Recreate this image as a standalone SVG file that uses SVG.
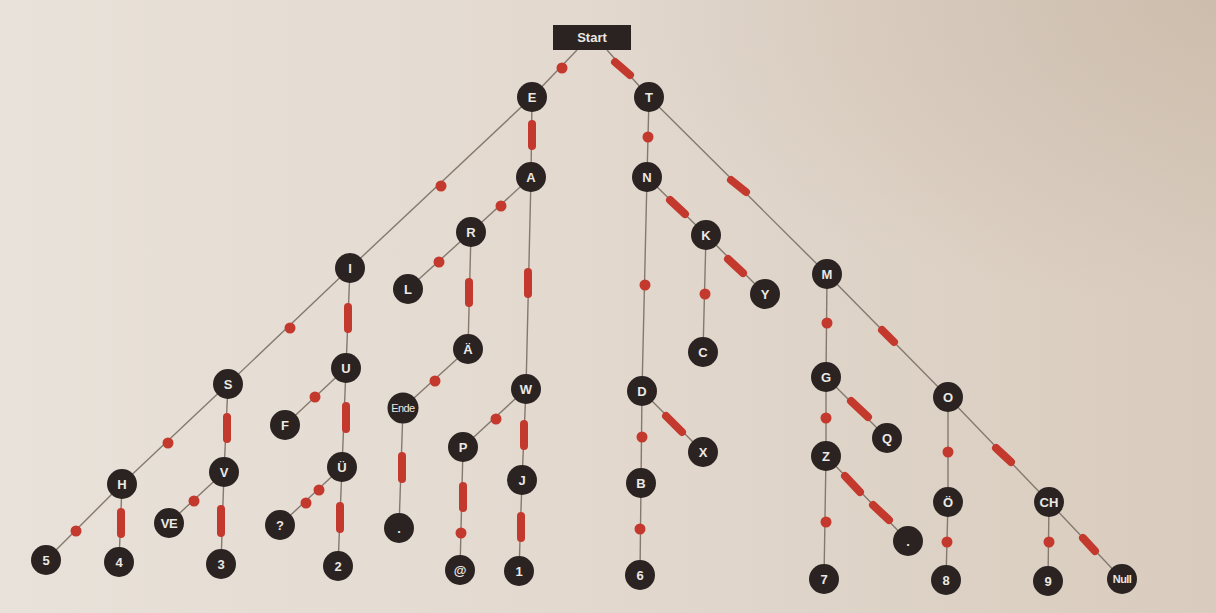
<svg xmlns="http://www.w3.org/2000/svg" width="1216" height="613" viewBox="0 0 1216 613">
<defs>
<linearGradient id="bg" x1="0" y1="0" x2="1" y2="0">
<stop offset="0" stop-color="#e9e2da"/>
<stop offset="0.5" stop-color="#e2d8ce"/>
<stop offset="1" stop-color="#d9ccbe"/>
</linearGradient>
<radialGradient id="vig" cx="1" cy="0" r="0.5">
<stop offset="0" stop-color="#b09a84" stop-opacity="0.3"/>
<stop offset="1" stop-color="#b09a84" stop-opacity="0"/>
</radialGradient>
<style>
.edge{stroke:#85796f;stroke-width:1.4;fill:none}
.dash{stroke:#c4392d;stroke-width:8;stroke-linecap:round}
.dot{fill:#c4392d}
.node circle{fill:#2a2321}
.node rect{fill:#2a2321}
.node text{font-family:"Liberation Sans",Arial,sans-serif;font-weight:bold;font-size:13px;fill:#ece8e4;text-anchor:middle}
.node text.small{font-size:11px;letter-spacing:-0.6px}
</style>
</defs>
<rect width="1216" height="613" fill="url(#bg)"/>
<rect width="1216" height="613" fill="url(#vig)"/>
<g id="connectors">
<line class="edge" x1="577" y1="50" x2="532" y2="97"/>
<line class="edge" x1="607" y1="50" x2="649" y2="97"/>
<line class="edge" x1="532" y1="97" x2="350" y2="268"/>
<line class="edge" x1="532" y1="97" x2="531" y2="177"/>
<line class="edge" x1="649" y1="97" x2="647" y2="177"/>
<line class="edge" x1="649" y1="97" x2="827" y2="274"/>
<line class="edge" x1="531" y1="177" x2="471" y2="232"/>
<line class="edge" x1="531" y1="177" x2="526" y2="389"/>
<line class="edge" x1="647" y1="177" x2="642" y2="391"/>
<line class="edge" x1="647" y1="177" x2="706" y2="235"/>
<line class="edge" x1="350" y1="268" x2="228" y2="384"/>
<line class="edge" x1="350" y1="268" x2="346" y2="368"/>
<line class="edge" x1="471" y1="232" x2="408" y2="289"/>
<line class="edge" x1="471" y1="232" x2="468" y2="349"/>
<line class="edge" x1="706" y1="235" x2="703" y2="352"/>
<line class="edge" x1="706" y1="235" x2="765" y2="294"/>
<line class="edge" x1="827" y1="274" x2="826" y2="377"/>
<line class="edge" x1="827" y1="274" x2="948" y2="397"/>
<line class="edge" x1="228" y1="384" x2="122" y2="484"/>
<line class="edge" x1="228" y1="384" x2="224" y2="472"/>
<line class="edge" x1="346" y1="368" x2="285" y2="425"/>
<line class="edge" x1="346" y1="368" x2="342" y2="467"/>
<line class="edge" x1="468" y1="349" x2="403" y2="408"/>
<line class="edge" x1="526" y1="389" x2="463" y2="447"/>
<line class="edge" x1="526" y1="389" x2="522" y2="480"/>
<line class="edge" x1="642" y1="391" x2="641" y2="483"/>
<line class="edge" x1="642" y1="391" x2="703" y2="452"/>
<line class="edge" x1="826" y1="377" x2="826" y2="456"/>
<line class="edge" x1="826" y1="377" x2="887" y2="438"/>
<line class="edge" x1="948" y1="397" x2="948" y2="502"/>
<line class="edge" x1="948" y1="397" x2="1049" y2="502"/>
<line class="edge" x1="122" y1="484" x2="46" y2="560"/>
<line class="edge" x1="122" y1="484" x2="119" y2="562"/>
<line class="edge" x1="224" y1="472" x2="169" y2="523"/>
<line class="edge" x1="224" y1="472" x2="221" y2="564"/>
<line class="edge" x1="342" y1="467" x2="280" y2="525"/>
<line class="edge" x1="342" y1="467" x2="338" y2="566"/>
<line class="edge" x1="403" y1="408" x2="399" y2="528"/>
<line class="edge" x1="463" y1="447" x2="460" y2="570"/>
<line class="edge" x1="522" y1="480" x2="519" y2="571"/>
<line class="edge" x1="641" y1="483" x2="640" y2="575"/>
<line class="edge" x1="826" y1="456" x2="824" y2="579"/>
<line class="edge" x1="826" y1="456" x2="908" y2="541"/>
<line class="edge" x1="948" y1="502" x2="946" y2="580"/>
<line class="edge" x1="1049" y1="502" x2="1048" y2="581"/>
<line class="edge" x1="1049" y1="502" x2="1122" y2="579"/>
<circle class="dot" cx="562" cy="68" r="5.5"/>
<circle class="dot" cx="441" cy="186" r="5.5"/>
<circle class="dot" cx="648" cy="137" r="5.5"/>
<circle class="dot" cx="501" cy="206" r="5.5"/>
<circle class="dot" cx="645" cy="285" r="5.5"/>
<circle class="dot" cx="290" cy="328" r="5.5"/>
<circle class="dot" cx="439" cy="262" r="5.5"/>
<circle class="dot" cx="705" cy="294" r="5.5"/>
<circle class="dot" cx="827" cy="323" r="5.5"/>
<circle class="dot" cx="168" cy="443" r="5.5"/>
<circle class="dot" cx="315" cy="397" r="5.5"/>
<circle class="dot" cx="435" cy="381" r="5.5"/>
<circle class="dot" cx="496" cy="419" r="5.5"/>
<circle class="dot" cx="642" cy="437" r="5.5"/>
<circle class="dot" cx="826" cy="418" r="5.5"/>
<circle class="dot" cx="948" cy="452" r="5.5"/>
<circle class="dot" cx="76" cy="531" r="5.5"/>
<circle class="dot" cx="194" cy="501" r="5.5"/>
<circle class="dot" cx="319" cy="490" r="5.5"/>
<circle class="dot" cx="306" cy="503" r="5.5"/>
<circle class="dot" cx="461" cy="533" r="5.5"/>
<circle class="dot" cx="640" cy="529" r="5.5"/>
<circle class="dot" cx="826" cy="522" r="5.5"/>
<circle class="dot" cx="947" cy="542" r="5.5"/>
<circle class="dot" cx="1049" cy="542" r="5.5"/>
<line class="dash" x1="615" y1="62" x2="630" y2="75"/>
<line class="dash" x1="532" y1="124" x2="532" y2="146"/>
<line class="dash" x1="731" y1="180" x2="746" y2="192"/>
<line class="dash" x1="528" y1="272" x2="528" y2="294"/>
<line class="dash" x1="670" y1="200" x2="685" y2="214"/>
<line class="dash" x1="348" y1="307" x2="348" y2="329"/>
<line class="dash" x1="469" y1="282" x2="469" y2="303"/>
<line class="dash" x1="728" y1="259" x2="743" y2="273"/>
<line class="dash" x1="882" y1="330" x2="894" y2="342"/>
<line class="dash" x1="227" y1="417" x2="227" y2="439"/>
<line class="dash" x1="346" y1="406" x2="346" y2="429"/>
<line class="dash" x1="524" y1="424" x2="524" y2="446"/>
<line class="dash" x1="666" y1="416" x2="682" y2="432"/>
<line class="dash" x1="851" y1="401" x2="868" y2="417"/>
<line class="dash" x1="996" y1="448" x2="1011" y2="462"/>
<line class="dash" x1="121" y1="512" x2="121" y2="534"/>
<line class="dash" x1="221" y1="509" x2="221" y2="533"/>
<line class="dash" x1="340" y1="506" x2="340" y2="529"/>
<line class="dash" x1="402" y1="456" x2="402" y2="479"/>
<line class="dash" x1="463" y1="486" x2="463" y2="508"/>
<line class="dash" x1="521" y1="516" x2="521" y2="538"/>
<line class="dash" x1="845" y1="476" x2="860" y2="492"/>
<line class="dash" x1="873" y1="505" x2="889" y2="520"/>
<line class="dash" x1="1083" y1="538" x2="1095" y2="551"/>
</g>
<g id="n-start" class="node"><rect x="553" y="25" width="78" height="25"/><text x="592" y="42">Start</text></g>
<g id="n-E" class="node"><circle cx="532" cy="97" r="15"/><text x="532" y="101.5">E</text></g>
<g id="n-T" class="node"><circle cx="649" cy="97" r="15"/><text x="649" y="101.5">T</text></g>
<g id="n-A" class="node"><circle cx="531" cy="177" r="15"/><text x="531" y="181.5">A</text></g>
<g id="n-N" class="node"><circle cx="647" cy="177" r="15"/><text x="647" y="181.5">N</text></g>
<g id="n-R" class="node"><circle cx="471" cy="232" r="15"/><text x="471" y="236.5">R</text></g>
<g id="n-K" class="node"><circle cx="706" cy="235" r="15"/><text x="706" y="239.5">K</text></g>
<g id="n-I" class="node"><circle cx="350" cy="268" r="15"/><text x="350" y="272.5">I</text></g>
<g id="n-L" class="node"><circle cx="408" cy="289" r="15"/><text x="408" y="293.5">L</text></g>
<g id="n-M" class="node"><circle cx="827" cy="274" r="15"/><text x="827" y="278.5">M</text></g>
<g id="n-Y" class="node"><circle cx="765" cy="294" r="15"/><text x="765" y="298.5">Y</text></g>
<g id="n-C" class="node"><circle cx="703" cy="352" r="15"/><text x="703" y="356.5">C</text></g>
<g id="n-AE" class="node"><circle cx="468" cy="349" r="15"/><text x="468" y="353.5">Ä</text></g>
<g id="n-S" class="node"><circle cx="228" cy="384" r="15"/><text x="228" y="388.5">S</text></g>
<g id="n-U" class="node"><circle cx="346" cy="368" r="15"/><text x="346" y="372.5">U</text></g>
<g id="n-W" class="node"><circle cx="526" cy="389" r="15"/><text x="526" y="393.5">W</text></g>
<g id="n-D" class="node"><circle cx="642" cy="391" r="15"/><text x="642" y="395.5">D</text></g>
<g id="n-G" class="node"><circle cx="826" cy="377" r="15"/><text x="826" y="381.5">G</text></g>
<g id="n-O" class="node"><circle cx="948" cy="397" r="15"/><text x="948" y="401.5">O</text></g>
<g id="n-Ende" class="node"><circle cx="403" cy="408" r="15.5"/><text class="small" x="403" y="412" style="font-weight:normal">Ende</text></g>
<g id="n-F" class="node"><circle cx="285" cy="425" r="15"/><text x="285" y="429.5">F</text></g>
<g id="n-P" class="node"><circle cx="463" cy="447" r="15"/><text x="463" y="451.5">P</text></g>
<g id="n-X" class="node"><circle cx="703" cy="452" r="15"/><text x="703" y="456.5">X</text></g>
<g id="n-Q" class="node"><circle cx="887" cy="438" r="15"/><text x="887" y="442.5">Q</text></g>
<g id="n-H" class="node"><circle cx="122" cy="484" r="15"/><text x="122" y="488.5">H</text></g>
<g id="n-V" class="node"><circle cx="224" cy="472" r="15"/><text x="224" y="476.5">V</text></g>
<g id="n-UE" class="node"><circle cx="342" cy="467" r="15"/><text x="342" y="471.5">Ü</text></g>
<g id="n-J" class="node"><circle cx="522" cy="480" r="15"/><text x="522" y="484.5">J</text></g>
<g id="n-B" class="node"><circle cx="641" cy="483" r="15"/><text x="641" y="487.5">B</text></g>
<g id="n-Z" class="node"><circle cx="826" cy="456" r="15"/><text x="826" y="460.5">Z</text></g>
<g id="n-OE" class="node"><circle cx="948" cy="502" r="15"/><text x="948" y="506.5">Ö</text></g>
<g id="n-CH" class="node"><circle cx="1049" cy="502" r="15"/><text x="1049" y="506.5">CH</text></g>
<g id="n-VE" class="node"><circle cx="169" cy="523" r="15"/><text x="169" y="527.5" style="letter-spacing:-0.5px">VE</text></g>
<g id="n-q" class="node"><circle cx="280" cy="525" r="15"/><text x="280" y="529.5">?</text></g>
<g id="n-5" class="node"><circle cx="46" cy="560" r="15"/><text x="46" y="564.5">5</text></g>
<g id="n-4" class="node"><circle cx="119" cy="562" r="15"/><text x="119" y="566.5">4</text></g>
<g id="n-3" class="node"><circle cx="221" cy="564" r="15"/><text x="221" y="568.5">3</text></g>
<g id="n-2" class="node"><circle cx="338" cy="566" r="15"/><text x="338" y="570.5">2</text></g>
<g id="n-period" class="node"><circle cx="399" cy="528" r="15"/><text x="399" y="532.5">.</text></g>
<g id="n-at" class="node"><circle cx="460" cy="570" r="15"/><text x="460" y="574.5">@</text></g>
<g id="n-1" class="node"><circle cx="519" cy="571" r="15"/><text x="519" y="575.5">1</text></g>
<g id="n-6" class="node"><circle cx="640" cy="575" r="15"/><text x="640" y="579.5">6</text></g>
<g id="n-7" class="node"><circle cx="824" cy="579" r="15"/><text x="824" y="583.5">7</text></g>
<g id="n-comma" class="node"><circle cx="908" cy="541" r="15"/><text x="908" y="545.5">.</text></g>
<g id="n-8" class="node"><circle cx="946" cy="580" r="15"/><text x="946" y="584.5">8</text></g>
<g id="n-9" class="node"><circle cx="1048" cy="581" r="15"/><text x="1048" y="585.5">9</text></g>
<g id="n-Null" class="node"><circle cx="1122" cy="579" r="15"/><text class="small" x="1122" y="583">Null</text></g>
</svg>
